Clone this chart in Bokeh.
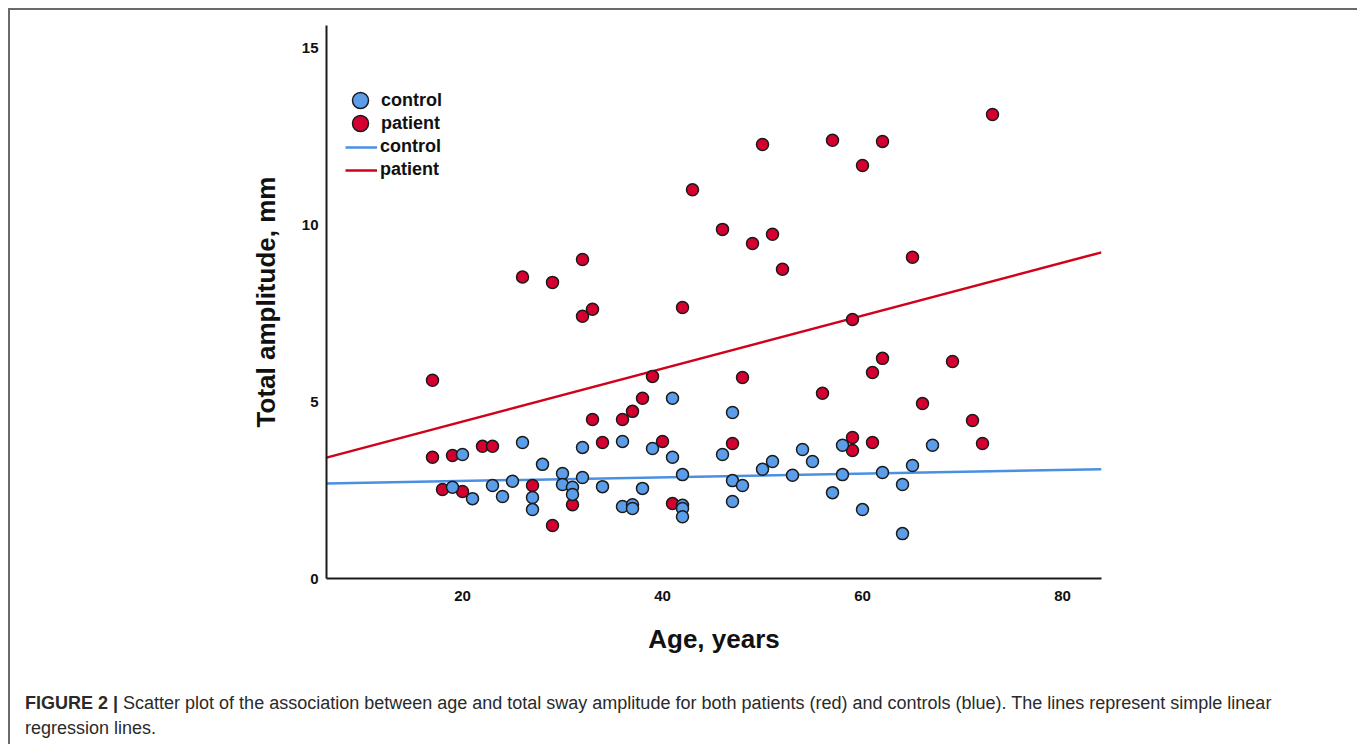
from bokeh.plotting import figure
from bokeh.models import Range1d, Legend, LegendItem, Div, FixedTicker
from bokeh.layouts import column
from bokeh.embed import file_html
from bokeh.resources import INLINE

# ---- data ----
control_age = [19, 20, 21, 23, 24, 25, 26, 27, 27, 28, 30, 30, 31, 31, 32, 32, 34,
               36, 36, 37, 37, 38, 39, 41, 41, 42, 42, 42, 42, 46, 47, 47, 47, 48,
               50, 51, 53, 54, 55, 57, 58, 58, 60, 62, 64, 64, 65, 67]
control_amp = [2.58, 3.51, 2.26, 2.63, 2.32, 2.75, 3.85, 2.29, 1.95, 3.23, 2.97, 2.66,
               2.58, 2.38, 3.71, 2.86, 2.60, 3.88, 2.04, 2.09, 1.98, 2.55, 3.68, 5.10,
               3.43, 2.94, 2.07, 1.98, 1.75, 3.51, 4.70, 2.77, 2.18, 2.63, 3.09, 3.31,
               2.92, 3.65, 3.31, 2.43, 3.77, 2.94, 1.95, 3.00, 2.66, 1.27, 3.20, 3.77]

patient_age = [17, 17, 18, 19, 20, 22, 23, 26, 27, 29, 29, 31, 32, 32, 33, 33, 34, 36,
               37, 38, 39, 40, 41, 42, 43, 46, 47, 48, 49, 50, 51, 52, 56, 57, 59, 59,
               59, 60, 61, 61, 62, 62, 65, 66, 69, 71, 72, 73]
patient_amp = [5.61, 3.43, 2.52, 3.48, 2.46, 3.74, 3.74, 8.53, 2.63, 8.38, 1.50, 2.09,
               9.03, 7.42, 7.62, 4.50, 3.85, 4.50, 4.73, 5.10, 5.72, 3.88, 2.12, 7.67,
               11.00, 9.88, 3.82, 5.69, 9.48, 12.28, 9.74, 8.75, 5.24, 12.40, 7.33, 3.99,
               3.62, 11.69, 5.83, 3.85, 12.37, 6.23, 9.09, 4.95, 6.14, 4.47, 3.82, 13.13]

# regression lines (end values)
fit_age = [6.4, 83.9]
control_fit = [2.69, 3.09]
patient_fit = [3.42, 9.23]

x_ticks = [20, 40, 60, 80]
y_ticks = [0, 5, 10, 15]

BLUE = "#5B9DE9"
RED = "#D5002F"
BLUE_LINE = "#4A90E2"
RED_LINE = "#D0021B"
TICK_FONT = "Liberation Sans Narrow, Liberation Sans, Arial, sans-serif"
LABEL_FONT = "Liberation Sans, Arial, sans-serif"

W, H = 1344, 660
p = figure(width=W, height=H, output_backend="svg", toolbar_location=None,
           x_range=Range1d(6.4, 83.9), y_range=Range1d(0, 15.65),
           min_border_left=316, min_border_right=W - 1091,
           min_border_top=15, min_border_bottom=H - 568)
p.outline_line_color = None
p.xgrid.visible = False
p.ygrid.visible = False
p.background_fill_color = "white"
p.border_fill_color = "white"

for ax in (p.xaxis[0], p.yaxis[0]):
    ax.axis_line_color = "#1a1a1a"
    ax.axis_line_width = 2
    ax.major_tick_line_color = None
    ax.minor_tick_line_color = None
    ax.major_label_text_font = TICK_FONT
    ax.major_label_text_font_style = "bold"
    ax.major_label_text_font_size = "15px"
    ax.major_label_text_color = "#111111"
    ax.axis_label_text_font = LABEL_FONT
    ax.axis_label_text_font_style = "bold"
    ax.axis_label_text_font_size = "26px"
    ax.axis_label_text_color = "#111111"

p.xaxis[0].ticker = FixedTicker(ticks=x_ticks)
p.yaxis[0].ticker = FixedTicker(ticks=y_ticks)
p.xaxis[0].major_label_standoff = 6
p.yaxis[0].major_label_standoff = 2
p.xaxis[0].axis_label = "Age, years"
p.yaxis[0].axis_label = "Total amplitude, mm"
p.xaxis[0].axis_label_standoff = 20
p.yaxis[0].axis_label_standoff = 18

r_cl = p.line(fit_age, control_fit, line_color=BLUE_LINE, line_width=2.5)
r_pl = p.line(fit_age, patient_fit, line_color=RED_LINE, line_width=2.5)
r_pp = p.scatter(patient_age, patient_amp, size=12, fill_color=RED,
                 line_color="#1a1a1a", line_width=1.5)
r_cp = p.scatter(control_age, control_amp, size=12, fill_color=BLUE,
                 line_color="#1a1a1a", line_width=1.5)

legend_style = dict(padding=0, spacing=0, border_line_color=None,
                    background_fill_alpha=0, label_text_font=LABEL_FONT,
                    label_text_font_style="bold", label_text_font_size="18px",
                    label_text_color="#111111", label_height=20)

# one legend block per entry so that the marker entries can use a larger glyph box
legend_entries = [
    ("control", r_cp, (14, 458), 40, 40, 1),
    ("patient", r_pp, (14, 435), 40, 40, 1),
    ("control", r_cl, (19, 421), 32, 20, 3),
    ("patient", r_pl, (19, 398), 32, 20, 3),
]
for label, rend, loc, gw, gh, so in legend_entries:
    lg = Legend(items=[LegendItem(label=label, renderers=[rend])], location=loc,
                glyph_width=gw, glyph_height=gh, label_standoff=so, **legend_style)
    p.add_layout(lg)

caption = Div(width=W, height=64, text=(
    '<div style="padding:16px 0 0 10px; font-family:\'Liberation Sans\', Arial, sans-serif;'
    ' font-size:18px; line-height:25px; color:#2a2a2a; white-space:nowrap;">'
    '<b>FIGURE 2 |</b> Scatter plot of the association between age and total sway '
    'amplitude for both patients (red) and controls (blue). The lines represent simple '
    'linear<br>regression lines.</div>'))

layout = column(p, caption, styles={"margin-left": "8px", "margin-top": "8px",
                                    "border-top": "2px solid #6a6a6a",
                                    "border-left": "2px solid #6a6a6a",
                                    "border-right": "2px solid #6a6a6a"})

open("out.html", "w").write(file_html(layout, INLINE))
